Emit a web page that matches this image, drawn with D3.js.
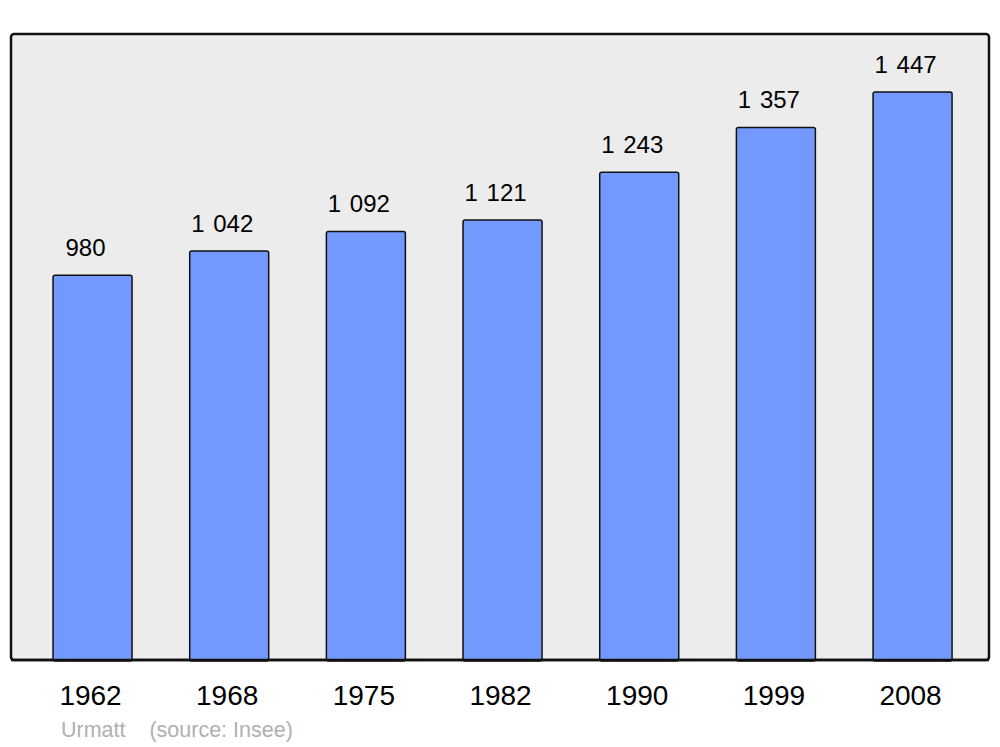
<!DOCTYPE html>
<html><head><meta charset="utf-8">
<script src="https://cdn.jsdelivr.net/npm/d3@7"></script>
<style>body{margin:0;background:#fff}svg{display:block;font-family:"Liberation Sans",Arial,sans-serif}</style>
</head><body>
<svg id="c" width="1000" height="747"></svg>
<script>
const years = ["1962","1968","1975","1982","1990","1999","2008"];
const population = [980,1042,1092,1121,1243,1357,1447];
const valueLabels = ["980","1 042","1 092","1 121","1 243","1 357","1 447"];
const sourceText = "Urmatt    (source: Insee)";

const svg = d3.select("#c");
const panel = {x0:11, x1:989, y0:34, y1:660};

svg.append("rect").attr("x",panel.x0).attr("y",panel.y0)
  .attr("width",panel.x1-panel.x0).attr("height",panel.y1-panel.y0)
  .attr("rx",3).attr("fill","#ececec").attr("stroke","#111").attr("stroke-width",2.5);

const x = d3.scaleBand().domain(years).range([24.2,980.9]).paddingInner(0.422).paddingOuter(0.211);
const y = d3.scaleLinear().domain([0,1595]).range([panel.y1,panel.y0]);

const data = years.map((yr,i)=>({yr, v:population[i], lab:valueLabels[i]}));

svg.selectAll("rect.bar").data(data).enter().append("rect").attr("class","bar")
  .attr("x",d=>x(d.yr)).attr("y",d=>y(d.v))
  .attr("width",x.bandwidth()).attr("height",d=>y(0)-y(d.v)+1)
  .attr("rx",2).attr("fill","#7399ff").attr("stroke","#111").attr("stroke-width",1.5);

svg.append("line").attr("x1",panel.x0).attr("x2",panel.x1).attr("y1",panel.y1).attr("y2",panel.y1)
  .attr("stroke","#111").attr("stroke-width",2.5);

svg.selectAll("text.val").data(data).enter().append("text").attr("class","val")
  .attr("x",d=>x(d.yr)+x.bandwidth()/2-7).attr("y",d=>y(d.v)-19)
  .attr("text-anchor","middle").attr("font-size",24).style("word-spacing","2px").attr("fill","#000").text(d=>d.lab);

svg.selectAll("text.yr").data(data).enter().append("text").attr("class","yr")
  .attr("x",d=>x(d.yr)+x.bandwidth()/2-2).attr("y",705)
  .attr("text-anchor","middle").attr("font-size",28).attr("fill","#000").text(d=>d.yr);

svg.append("text").attr("x",61).attr("y",737).attr("font-size",21.5).attr("fill","#b0b0b0")
  .attr("xml:space","preserve").style("white-space","pre").text(sourceText);
</script>
</body></html>
